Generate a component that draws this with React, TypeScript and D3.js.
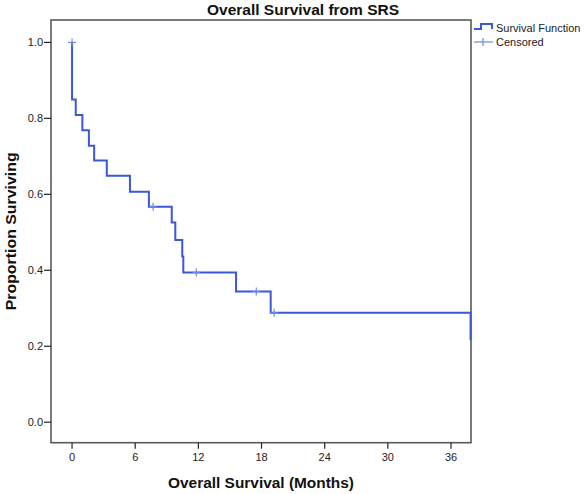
import React from "react";
import * as d3 from "d3";

const eventTimes = [0, 0, 0.35, 0.98, 1.6, 2.1, 3.3, 5.5, 7.3, 9.47, 9.81, 10.47, 10.57, 15.58, 18.87, 37.86];
const survival = [1.0, 0.85, 0.809, 0.769, 0.728, 0.689, 0.649, 0.607, 0.567, 0.526, 0.48, 0.436, 0.394, 0.344, 0.288, 0.216];
const censorTimes = [0, 7.7, 11.8, 17.5, 19.2];
const censorSurv = [1.0, 0.567, 0.394, 0.344, 0.288];
const xTicks = [0, 6, 12, 18, 24, 30, 36];
const yTicks = [0.0, 0.2, 0.4, 0.6, 0.8, 1.0];

const W = 584;
const H = 494;
const FONT = "'Liberation Sans', Arial, sans-serif";
const LINE = "#3a58d8";
const CENS = "#6e8ae6";
const FRAME = "#5a5a5a";

export default function App() {
  const left = 51, right = 471, top = 20, bottom = 442.7;
  const x = d3.scaleLinear().domain([-2, 37.9]).range([left, right]);
  const y = d3.scaleLinear().domain([-0.054, 1.059]).range([bottom, top]);

  const pts: [number, number][] = eventTimes.map((t, i) => [t, survival[i]]);
  const line = d3
    .line<[number, number]>()
    .x((d) => x(d[0]))
    .y((d) => y(d[1]))
    .curve(d3.curveStepAfter);

  return (
    <svg
      width={W}
      height={H}
      style={{ position: "absolute", left: 0, top: 0, background: "#fff" }}
      fontFamily={FONT}
    >
      <rect x={0} y={0} width={W} height={H} fill="#fff" />
      <text x={303} y={15} textAnchor="middle" fontSize={14.5} fontWeight="bold" fill="#111" textLength={192} lengthAdjust="spacingAndGlyphs">
        Overall Survival from SRS
      </text>
      {/* frame */}
      <rect x={left} y={top} width={right - left} height={bottom - top} fill="none" stroke={FRAME} strokeWidth={1.6} />
      {/* y ticks */}
      {yTicks.map((v) => (
        <g key={"y" + v}>
          <line x1={left - 7} x2={left} y1={y(v)} y2={y(v)} stroke="#222" strokeWidth={1.2} />
          <text x={left - 8} y={y(v) + 4} textAnchor="end" fontSize={11} fill="#222">
            {v.toFixed(1)}
          </text>
        </g>
      ))}
      {/* x ticks */}
      {xTicks.map((v) => (
        <g key={"x" + v}>
          <line x1={x(v)} x2={x(v)} y1={bottom} y2={bottom + 6} stroke="#222" strokeWidth={1.2} />
          <text x={x(v)} y={bottom + 18} textAnchor="middle" fontSize={11} fill="#222">
            {v}
          </text>
        </g>
      ))}
      <text x={261} y={488} textAnchor="middle" fontSize={14.5} fontWeight="bold" fill="#111" textLength={186} lengthAdjust="spacingAndGlyphs">
        Overall Survival (Months)
      </text>
      <text
        transform={`translate(16, ${(top + bottom) / 2}) rotate(-90)`}
        textAnchor="middle"
        fontSize={14.5}
        fontWeight="bold"
        fill="#111"
        textLength={158}
        lengthAdjust="spacingAndGlyphs"
      >
        Proportion Surviving
      </text>
      {/* survival line */}
      <path d={line(pts) || ""} fill="none" stroke={LINE} strokeWidth={2} />
      {/* censor marks */}
      {censorTimes.map((t, i) => (
        <g key={"c" + i} stroke={CENS} strokeWidth={1.2}>
          <line x1={x(t)} x2={x(t)} y1={y(censorSurv[i]) - 4} y2={y(censorSurv[i]) + 4} />
          <line x1={x(t) - 4} x2={x(t) + 4} y1={y(censorSurv[i])} y2={y(censorSurv[i])} />
        </g>
      ))}
      {/* legend */}
      <path d="M474,29 H481 V24 H492 V29" fill="none" stroke={LINE} strokeWidth={2} />
      <text x={496} y={32} fontSize={11} fill="#222">Survival Function</text>
      <g stroke={CENS} strokeWidth={1.2}>
        <line x1={474} x2={493} y1={42} y2={42} />
        <line x1={483} x2={483} y1={38} y2={46} />
      </g>
      <text x={496} y={46} fontSize={11} fill="#222">Censored</text>
    </svg>
  );
}
